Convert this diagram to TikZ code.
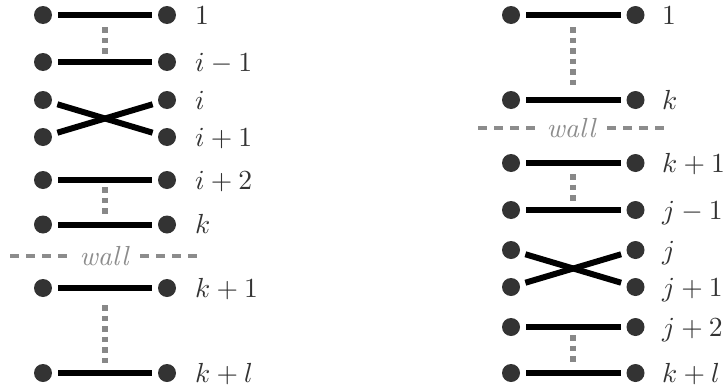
\documentclass[tikz,border=0pt]{standalone}
\definecolor{dotc}{HTML}{333333}
\definecolor{labc}{HTML}{333333}
\definecolor{dotgray}{HTML}{888888}
\definecolor{wallgray}{HTML}{8C8C8C}
\newcommand{\bigtxt}[1]{\scalebox{2.76}{#1}}
\begin{document}
\begin{tikzpicture}[x=1pt,y=-1pt,
  dotn/.style={circle,fill=dotc,minimum size=18pt,inner sep=0pt,outer sep=0pt},
  bar/.style={line width=6pt,shorten >=6pt,shorten <=6pt},
  dotline/.style={draw=dotgray,line width=5.5pt,dash pattern=on 5.5pt off 5pt},
  wallline/.style={draw=wallgray,line width=3.5pt,dash pattern=on 9pt off 7pt},
  lab/.style={anchor=base west,text=labc,inner sep=0pt},
  walltext/.style={anchor=base,text=wallgray,inner sep=0pt}]
\useasboundingbox (0,0) rectangle (723,391);

% ---------- left diagram ----------
\foreach \n/\y/\t in {1/15/1, 2/62/i-1, 3/100/i, 4/137/i+1, 5/180/i+2, 6/224.5/k, 7/288/k+1, 8/373/k+l}{
  \node[dotn] (la\n) at (43,\y) {};
  \node[dotn] (lb\n) at (167,\y) {};
  \node[lab] (ll\n) at (195,\y+9) {\bigtxt{$\t$}};
}
\draw[bar] (la1) -- (lb1);
\draw[bar] (la2) -- (lb2);
\draw[bar] (la4) -- (lb3);
\draw[bar] (la3) -- (lb4);
\draw[bar] (la5) -- (lb5);
\draw[bar] (la6) -- (lb6);
\draw[bar] (la7) -- (lb7);
\draw[bar] (la8) -- (lb8);
\draw[dotline] (105,27) -- (105,54);
\draw[dotline] (105,187) -- (105,214);
\draw[dotline] (105,305) -- (105,363);
\node[walltext] (lwall) at (104,265) {\bigtxt{\itshape wall}};
\draw[wallline] (10,256) -- (67,256);
\draw[wallline] (140,256) -- (197,256);

% ---------- right diagram ----------
\foreach \n/\y/\t in {1/15/1, 2/100/k, 3/163/k+1, 4/210/j-1, 5/250/j, 6/287/j+1, 7/327/j+2, 8/373/k+l}{
  \node[dotn] (ra\n) at (511,\y) {};
  \node[dotn] (rb\n) at (635.5,\y) {};
  \node[lab] (rl\n) at (662,\y+9) {\bigtxt{$\t$}};
}
\draw[bar] (ra1) -- (rb1);
\draw[bar] (ra2) -- (rb2);
\draw[bar] (ra3) -- (rb3);
\draw[bar] (ra4) -- (rb4);
\draw[bar] (ra6) -- (rb5);
\draw[bar] (ra5) -- (rb6);
\draw[bar] (ra7) -- (rb7);
\draw[bar] (ra8) -- (rb8);
\draw[dotline] (573,27) -- (573,85);
\draw[dotline] (573,174) -- (573,201);
\draw[dotline] (573,335) -- (573,362);
\node[walltext] (rwall) at (571,137) {\bigtxt{\itshape wall}};
\draw[wallline] (478,128) -- (535,128);
\draw[wallline] (607,128) -- (664,128);
\end{tikzpicture}
\end{document}
